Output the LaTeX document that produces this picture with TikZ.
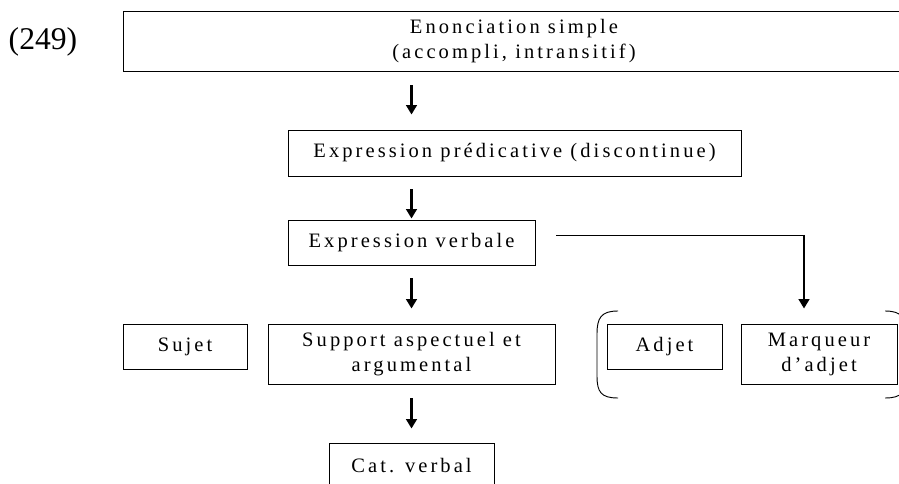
\documentclass[tikz,border=0pt]{standalone}
\usepackage{fontspec}
\setmainfont{Liberation Serif}
\newfontfamily\spaced[LetterSpace=15]{Liberation Serif}
\usetikzlibrary{arrows.meta}

\tikzset{
  box/.style={draw, rectangle, line width=0.8pt, inner sep=0pt, align=center,
    font=\spaced\fontsize{17.5}{21.3}\selectfont},
  arr/.style={line width=2.2pt, -{Triangle[length=8pt,width=9pt]}}
}

\begin{document}
\begin{tikzpicture}[x=0.03cm, y=-0.03cm]
\useasboundingbox (0,0) rectangle (899,484);
\node[font=\fontsize{27}{30}\selectfont] (num) at (43,42) {(249)};
\begin{scope}[every node/.style={box}]
\node[minimum width=23.46cm, minimum height=1.8cm] (enonce) at (514,41) {Enonciation simple\\(accompli, intransitif)};
\node[minimum width=13.59cm, minimum height=1.38cm] (pred) at (514.5,153) {Expression prédicative (discontinue)};
\node[minimum width=7.41cm, minimum height=1.35cm] (verb) at (411.5,242.5) {Expression verbale};
\node[minimum width=3.72cm, minimum height=1.35cm] (sujet) at (185,346.5) {Sujet};
\node[minimum width=8.61cm, minimum height=1.8cm] (support) at (411.5,354) {Support aspectuel et\\argumental};
\node[minimum width=4.95cm, minimum height=1.35cm] (cat) at (411.5,465.5) {Cat. verbal};
\node[minimum width=3.45cm, minimum height=1.35cm] (adjet) at (664.5,346.5) {Adjet};
\node[minimum width=4.68cm, minimum height=1.8cm] (marq) at (819,354) {Marqueur\\d’adjet};
\end{scope}
\coordinate (vstart) at (556,235);
\coordinate (vcorner) at (804,235);
\draw [arr, shorten <=0.42cm, shorten >=0.45cm] (enonce.south -| verb.north) -- (pred.north -| verb.north);
\draw [arr, shorten <=0.39cm, shorten >=0.03cm] (pred.south -| verb.north) -- (verb.north);
\draw [arr, shorten <=0.39cm, shorten >=0.45cm] (verb.south) -- (support.north);
\draw [arr, shorten <=0.42cm, shorten >=0.42cm] (support.south) -- (cat.north);
\draw [line width=0.8pt] (vstart) -- (vcorner);
\draw [arr, shorten >=0.45cm] (vcorner) -- (vcorner |- marq.north);
% crochets
\draw [line width=0.8pt] (618,311) .. controls (601,311) and (597,318) .. (597,334) -- (597,376) .. controls (597,392) and (601,398) .. (618,398);
\draw [line width=0.8pt] (885,311) .. controls (902,311) and (906,318) .. (906,334) -- (906,376) .. controls (906,392) and (902,398) .. (885,398);
\end{tikzpicture}
\end{document}
